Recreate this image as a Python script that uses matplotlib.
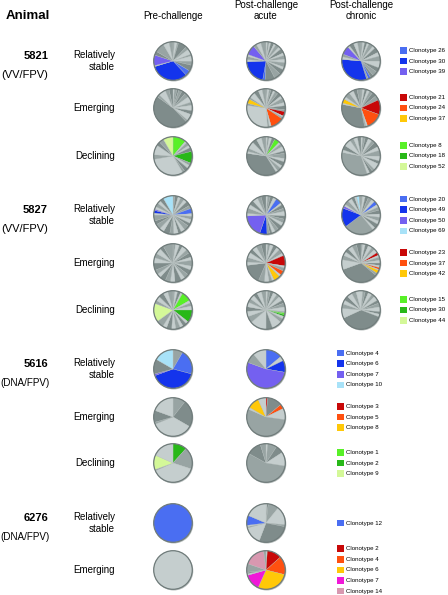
import matplotlib
matplotlib.use("Agg")
import matplotlib.pyplot as plt
from matplotlib.patches import Circle, Rectangle

plt.rcParams['font.family'] = ['Liberation Sans', 'DejaVu Sans']

# ---------------- colours ----------------
palette = {
    'D': '#7f8c8b', 'M': '#98a4a3', 'L': '#c5cece',
    'b': '#4a6ef2', 'n': '#1434ec', 'p': '#7460f0', 'c': '#a8e2f8',
    'r': '#c80808', 'o': '#ff5010', 'y': '#ffc808',
    'g': '#58f028', 'h': '#28b818', 'l': '#d4f898',
    'm': '#f018d8', 'k': '#d898b0',
}

# ---------------- data (slice sizes in degrees, clockwise from 12 o'clock) ----------------
a5821_stable_pre = [5, 8, 4, 26, 10, 16, 6, 16, 12, 18, 16, 116, 3, 32, 12, 30, 18, 12]
c5821_stable_pre = "M L M D M L M L M D b n L p D M L M"
a5821_stable_acu = [4, 6, 5, 10, 6, 12, 8, 14, 8, 12, 10, 14, 8, 16, 20, 30, 7, 78, 6, 10, 6, 30, 10, 14, 16]
c5821_stable_acu = "L M L D L M L D L M L M L D M D b n L M L p M L M"
a5821_stable_chr = [5, 6, 8, 6, 14, 8, 16, 12, 16, 20, 14, 15, 10, 8, 5, 112, 8, 8, 26, 6, 14, 12, 11]
c5821_stable_chr = "M L D L M L D L M L D M D b M n L M p L D L M"
a5821_emerg_pre = [4, 8, 6, 10, 12, 14, 18, 10, 16, 12, 20, 6, 170, 8, 22, 12, 12]
c5821_emerg_pre = "L M D M D M L M L D L M D M L M D"
a5821_emerg_acu = [4, 6, 5, 8, 6, 10, 12, 8, 14, 10, 12, 6, 14, 4, 5, 40, 6, 6, 102, 6, 14, 6, 18, 14, 12, 12]
c5821_emerg_acu = "M L M D L M D L M L D M r L M o L M L M y M L D L M"
a5821_emerg_chr = [5, 6, 8, 8, 10, 14, 14, 45, 50, 5, 4, 112, 4, 13, 8, 16, 14, 12, 12]
c5821_emerg_chr = "M L D L M D M r o L M D L y L M L D M"
a5821_decl_pre = [40, 6, 10, 8, 12, 36, 8, 10, 12, 8, 110, 14, 30, 12, 14, 30]
c5821_decl_pre = "g L M L D h M L D M L M L D M l"
a5821_decl_acu = [4, 6, 8, 10, 16, 6, 10, 14, 8, 16, 10, 14, 8, 12, 6, 130, 6, 10, 22, 14, 16, 14]
c5821_decl_acu = "L M L D g L M L D M L D L M L D L M L D L M"
a5821_decl_chr = [5, 8, 10, 12, 10, 16, 12, 18, 14, 10, 20, 8, 10, 8, 120, 8, 14, 22, 12, 12, 11]
c5821_decl_chr = "L M D L M D L M L D L M D L M L D L M L D"

a5827_stable_pre = [6, 10, 8, 12, 10, 14, 10, 16, 8, 10, 12, 10, 16, 12, 10, 14, 12, 20, 14, 16, 12, 18, 6, 8, 4, 8, 12, 10, 12, 30]
c5827_stable_pre = "M D L M L D M b L M L D M L D L M D L M D M L n p L M L D c"
a5827_stable_acu = [5, 8, 10, 10, 18, 6, 12, 10, 14, 10, 12, 10, 14, 12, 10, 8, 8, 22, 68, 8, 16, 12, 14, 16, 12, 15]
c5827_stable_acu = "L M D L b L D M L D M L D M L D M n p L M L D L M D"
a5827_stable_chr = [5, 8, 10, 12, 10, 12, 8, 10, 12, 10, 12, 10, 14, 8, 92, 58, 7, 6, 14, 12, 10, 6, 8, 6]
c5827_stable_chr = "M L D M L b L M D L M L D L M n p L M L D L c M"
a5827_emerg_pre = [8, 12, 10, 16, 12, 14, 10, 18, 12, 16, 14, 12, 20, 14, 16, 18, 12, 14, 22, 16, 14, 18, 12, 30]
c5827_emerg_pre = "M L D L M D L M L D M L D L M D L M D L M L D M"
a5827_emerg_acu = [5, 8, 10, 12, 10, 14, 8, 32, 6, 10, 14, 6, 20, 6, 10, 14, 18, 60, 10, 14, 16, 12, 14, 16, 15]
c5827_emerg_acu = "L M L D L M L r L M o L y L M L M D L M L D L M D"
a5827_emerg_chr = [5, 8, 10, 12, 10, 12, 9, 6, 10, 8, 8, 6, 6, 3, 10, 7, 120, 30, 14, 12, 12, 14, 14, 14]
c5827_emerg_chr = "M L D L M L r L M L D L o L y M D L M L D L M D"
a5827_decl_pre = [6, 8, 10, 6, 30, 8, 10, 12, 38, 8, 12, 10, 14, 12, 16, 12, 22, 56, 10, 14, 16, 14, 16]
c5827_decl_pre = "M L D L g L M L h L D L M L D L M l M L D L M"
a5827_decl_acu = [5, 8, 10, 12, 10, 14, 10, 12, 14, 4, 5, 6, 8, 12, 30, 20, 50, 20, 16, 14, 14, 12, 14, 12, 14, 14]
c5827_decl_acu = "L M D L M L D M L M g h L M L D L M L D L M L D L M"
a5827_decl_chr = [5, 8, 10, 12, 10, 14, 10, 12, 14, 8, 8, 134, 30, 14, 12, 14, 16, 14, 15]
c5827_decl_chr = "L M D L M L D M L D L D L M L D L M L"

a5616_stable_pre = [30, 75, 145, 5, 45, 60]
c5616_stable_pre = "M b n p D c"
a5616_stable_acu = [50, 14, 36, 190, 30, 40]
c5616_stable_acu = "b L n p M L"
a5616_emerg_pre = [38, 82, 128, 6, 36, 70]
c5616_emerg_pre = "M D L M D L"
a5616_emerg_acu = [5, 45, 14, 34, 196, 6, 36, 24]
c5616_emerg_acu = "r D o L M L y L"
a5616_decl_pre = [42, 66, 138, 4, 44, 66]
c5616_decl_pre = "h M L M l L"
a5616_decl_acu = [5, 28, 24, 42, 200, 44, 17]
c5616_decl_acu = "L M D L M D M"

a6276_stable_pre = [360]
c6276_stable_pre = "b"
a6276_stable_acu = [3, 4, 32, 56, 6, 100, 54, 4, 4, 30, 67]
c6276_stable_acu = "L D M L M D L M L b L"
a6276_emerg_pre = [360]
c6276_emerg_pre = "L"
a6276_emerg_acu = [4, 44, 56, 100, 50, 5, 4, 26, 64, 7]
c6276_emerg_acu = "L r o y m L D M k M"

# legends
leg_5821_stable = ["Clonotype 26", "Clonotype 30", "Clonotype 39"]
leg_5821_stable_c = "b n p"
leg_5821_emerg = ["Clonotype 21", "Clonotype 24", "Clonotype 37"]
leg_5821_emerg_c = "r o y"
leg_5821_decl = ["Clonotype 8", "Clonotype 18", "Clonotype 52"]
leg_5821_decl_c = "g h l"
leg_5827_stable = ["Clonotype 20", "Clonotype 49", "Clonotype 50", "Clonotype 69"]
leg_5827_stable_c = "b n p c"
leg_5827_emerg = ["Clonotype 23", "Clonotype 37", "Clonotype 42"]
leg_5827_emerg_c = "r o y"
leg_5827_decl = ["Clonotype 15", "Clonotype 30", "Clonotype 44"]
leg_5827_decl_c = "g h l"
leg_5616_stable = ["Clonotype 4", "Clonotype 6", "Clonotype 7", "Clonotype 10"]
leg_5616_stable_c = "b n p c"
leg_5616_emerg = ["Clonotype 3", "Clonotype 5", "Clonotype 8"]
leg_5616_emerg_c = "r o y"
leg_5616_decl = ["Clonotype 1", "Clonotype 2", "Clonotype 9"]
leg_5616_decl_c = "g h l"
leg_6276_stable = ["Clonotype 12"]
leg_6276_stable_c = "b"
leg_6276_emerg = ["Clonotype 2", "Clonotype 4", "Clonotype 6", "Clonotype 7", "Clonotype 14"]
leg_6276_emerg_c = "r o y m k"

columns = ["Pre-challenge", "Post-challenge\nacute", "Post-challenge\nchronic"]
animals = ["5821", "5827", "5616", "6276"]
vaccines = ["(VV/FPV)", "(VV/FPV)", "(DNA/FPV)", "(DNA/FPV)"]

# ---------------- layout ----------------
W, H = 448, 595
col_x = [173, 266, 361]
R = 19.3

rows = [
    (0, "Relatively\nstable", 61, [(a5821_stable_pre, c5821_stable_pre), (a5821_stable_acu, c5821_stable_acu), (a5821_stable_chr, c5821_stable_chr)], leg_5821_stable, leg_5821_stable_c, 400),
    (0, "Emerging", 108, [(a5821_emerg_pre, c5821_emerg_pre), (a5821_emerg_acu, c5821_emerg_acu), (a5821_emerg_chr, c5821_emerg_chr)], leg_5821_emerg, leg_5821_emerg_c, 400),
    (0, "Declining", 156, [(a5821_decl_pre, c5821_decl_pre), (a5821_decl_acu, c5821_decl_acu), (a5821_decl_chr, c5821_decl_chr)], leg_5821_decl, leg_5821_decl_c, 400),
    (1, "Relatively\nstable", 215, [(a5827_stable_pre, c5827_stable_pre), (a5827_stable_acu, c5827_stable_acu), (a5827_stable_chr, c5827_stable_chr)], leg_5827_stable, leg_5827_stable_c, 400),
    (1, "Emerging", 263, [(a5827_emerg_pre, c5827_emerg_pre), (a5827_emerg_acu, c5827_emerg_acu), (a5827_emerg_chr, c5827_emerg_chr)], leg_5827_emerg, leg_5827_emerg_c, 400),
    (1, "Declining", 310, [(a5827_decl_pre, c5827_decl_pre), (a5827_decl_acu, c5827_decl_acu), (a5827_decl_chr, c5827_decl_chr)], leg_5827_decl, leg_5827_decl_c, 400),
    (2, "Relatively\nstable", 369, [(a5616_stable_pre, c5616_stable_pre), (a5616_stable_acu, c5616_stable_acu)], leg_5616_stable, leg_5616_stable_c, 337),
    (2, "Emerging", 417, [(a5616_emerg_pre, c5616_emerg_pre), (a5616_emerg_acu, c5616_emerg_acu)], leg_5616_emerg, leg_5616_emerg_c, 337),
    (2, "Declining", 463, [(a5616_decl_pre, c5616_decl_pre), (a5616_decl_acu, c5616_decl_acu)], leg_5616_decl, leg_5616_decl_c, 337),
    (3, "Relatively\nstable", 523, [(a6276_stable_pre, c6276_stable_pre), (a6276_stable_acu, c6276_stable_acu)], leg_6276_stable, leg_6276_stable_c, 337),
    (3, "Emerging", 570, [(a6276_emerg_pre, c6276_emerg_pre), (a6276_emerg_acu, c6276_emerg_acu)], leg_6276_emerg, leg_6276_emerg_c, 337),
]

fig = plt.figure(figsize=(W / 100, H / 100), dpi=100)
ax = fig.add_axes([0, 0, 1, 1])


def Y(y):
    return H - y


# headers
ax.text(6, Y(16), "Animal", fontsize=9.5, fontweight='bold', ha='left', va='center')
ax.text(col_x[0], Y(16), columns[0], fontsize=7, ha='center', va='center')
for x, lab in zip(col_x[1:], columns[1:]):
    l1, l2 = lab.split("\n")
    ax.text(x, Y(5), l1, fontsize=7, ha='center', va='center')
    ax.text(x, Y(16), l2, fontsize=7, ha='center', va='center')

animal_first_y = {}
for ai, cat, py, pies, leg, legc, lx in rows:
    if ai not in animal_first_y:
        animal_first_y[ai] = py
    # category label
    if "\n" in cat:
        l1, l2 = cat.split("\n")
        ax.text(115, Y(py - 6), l1, fontsize=7, ha='right', va='center')
        ax.text(115, Y(py + 6), l2, fontsize=7, ha='right', va='center')
    else:
        ax.text(115, Y(py), cat, fontsize=7, ha='right', va='center')
    # pies
    for ci, (vals, codes) in enumerate(pies):
        cx = col_x[ci]
        cols = [palette[c] for c in codes.split()]
        ax.add_patch(Circle((cx + 0.7, Y(py) - 0.9), R + 0.3, facecolor='#9aa3a2',
                            edgecolor='none', alpha=0.7, zorder=1))
        wedges, _ = ax.pie(vals, colors=cols, startangle=90, counterclock=False,
                           center=(cx, Y(py)), radius=R, normalize=True,
                           wedgeprops=dict(edgecolor='#bcc5c4', linewidth=0.2))
        for w in wedges:
            w.set_zorder(2)
        ax.add_patch(Circle((cx, Y(py)), R, facecolor='none', edgecolor='#6f7b7a',
                            linewidth=0.9, zorder=3))
    # legend
    lcols = [palette[c] for c in legc.split()]
    n = len(leg)
    step = 10.6
    y0 = py - step * (n - 1) / 2
    for k, (lab, col) in enumerate(zip(leg, lcols)):
        yy = y0 + k * step
        ax.add_patch(Rectangle((lx, Y(yy) - 3.3), 6.6, 6.6, facecolor=col, edgecolor='none', zorder=2))
        ax.text(lx + 9, Y(yy), lab, fontsize=4.4, ha='left', va='center')

for ai in range(4):
    fy = animal_first_y[ai]
    ax.text(48, Y(fy - 5), animals[ai], fontsize=8, fontweight='bold', ha='right', va='center')
    if "DNA" in vaccines[ai]:
        ax.text(49.5, Y(fy + 14), vaccines[ai], fontsize=7.1, ha='right', va='center')
    else:
        ax.text(48, Y(fy + 14), vaccines[ai], fontsize=8, ha='right', va='center')

ax.set_xlim(0, W)
ax.set_ylim(0, H)
ax.set_aspect('auto')
ax.axis('off')

fig.savefig("out.png", dpi=100)
